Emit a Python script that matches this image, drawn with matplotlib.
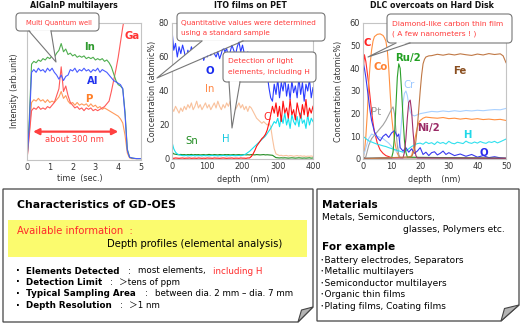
import numpy as np
import matplotlib
matplotlib.use('Agg')
import matplotlib.pyplot as plt
import matplotlib.transforms as mtransforms
from matplotlib.patches import FancyBboxPatch, Polygon, Rectangle
from matplotlib.lines import Line2D

plt.rcParams['font.family'] = ['DejaVu Sans', 'Noto Sans CJK JP']

W, H = 522, 328

# ---- AlGaInP multilayers : intensity vs sputtering time ----
t1 = np.round(np.arange(0, 5.01, 0.1), 1)
in1 = [0, 30, 70, 72, 71, 73, 72, 74, 73, 75,
       74, 76, 75, 78, 80, 85, 79, 81, 77, 78,
       76, 77, 75, 76, 75, 76, 74, 75, 74, 75,
       73, 74, 73, 74, 72, 73, 71, 68, 63, 58,
       55, 54, 52, 35, 8, 2, 1.5, 1.2, 1, 1, 1]
al1 = [0, 25, 64, 66, 64, 67, 65, 66, 64, 67,
       65, 67, 64, 62, 59, 62, 58, 61, 62, 66,
       65, 67, 64, 66, 65, 67, 65, 66, 64, 66,
       65, 67, 64, 66, 65, 64, 62, 60, 58, 57,
       56, 55, 52, 33, 7, 2, 1.5, 1.2, 1, 1, 1]
p1 = [0, 20, 42, 44, 43, 45, 43, 44, 42, 44,
      42, 43, 42, 44, 46, 50, 45, 47, 43, 41,
      42, 40, 42, 40, 41, 40, 41, 39, 41, 39,
      40, 38, 39, 37, 38, 37, 36, 35, 34, 33,
      32, 30, 27, 18, 5, 1.5, 1, 1, 1, 1, 1]
ga1 = [0, 18, 36, 38, 37, 39, 37, 38, 37, 39,
       38, 40, 42, 47, 52, 68, 50, 54, 47, 42,
       40, 38, 39, 37, 38, 36, 38, 37, 38, 36,
       37, 36, 37, 38, 39, 41, 43, 50, 58, 66,
       75, 86, 97, 106, 110, 110, 110, 110, 110, 110, 110]

# ---- ITO films on PET : concentration vs depth ----
d2 = np.arange(0, 401, 5)
o2 = [76, 64, 68, 60, 66, 62, 67, 63, 58,
      64, 61, 66, 63, 65, 60, 62, 67, 63,
      58, 62, 60, 64, 61, 65, 62, 60, 63,
      59, 62, 66, 63, 65, 60, 63, 67, 64,
      61, 66, 69, 63, 67, 62, 58, 63, 60,
      62, 58, 61, 57, 60, 56, 58, 54, 55,
      50, 42, 36, 34, 44, 38, 47, 36, 45,
      40, 48, 37, 44, 35, 46, 39, 43, 36,
      48, 38, 45, 34, 44, 40, 47, 36, 42]
in2 = [30, 28, 31, 29, 27, 30, 28, 31, 29,
       32, 30, 33, 29, 31, 34, 30, 32, 29,
       31, 33, 30, 32, 29, 31, 33, 30, 34,
       31, 29, 32, 30, 33, 31, 34, 30, 32,
       29, 31, 33, 30, 32, 29, 31, 28, 31,
       30, 28, 26, 24, 23, 22, 21, 22, 21,
       20, 21, 19, 12, 6, 3, 2.5, 2, 2.2,
       1.8, 2, 2.1, 1.7, 2, 1.9, 1.6, 1.8, 2,
       1.7, 1.9, 1.6, 1.8, 1.5, 1.7, 1.6, 1.8, 1.5]
sn2 = [4, 3, 2.8, 2.6, 2.5, 2.7, 2.5, 2.6, 2.4,
       2.6, 2.5, 2.7, 2.4, 2.6, 2.5, 2.6, 2.4, 2.5,
       2.6, 2.4, 2.5, 2.7, 2.5, 2.4, 2.6, 2.5, 2.4,
       2.6, 2.5, 2.4, 2.6, 2.5, 2.6, 2.4, 2.5, 2.6,
       2.4, 2.5, 2.6, 2.4, 2.5, 2.6, 2.4, 2.5, 2.4,
       2.6, 2.5, 2.4, 2.6, 2.5, 2.4, 2.5, 2.6, 2.4,
       2.5, 2.4, 2.3, 2.2, 1.5, 0.8, 0.7, 0.6, 0.7,
       0.6, 0.7, 0.6, 0.5, 0.6, 0.7, 0.6, 0.5, 0.6,
       0.7, 0.6, 0.5, 0.6, 0.5, 0.6, 0.7, 0.5, 0.6]
h2 = [10, 6, 4, 3, 2.5, 2.2, 2, 1.9, 2.1,
      1.8, 2, 1.9, 2.1, 1.8, 2, 1.9, 2, 1.8,
      2.1, 1.9, 2, 1.8, 2, 2.1, 1.9, 2, 1.8,
      2, 1.9, 2.1, 2, 1.8, 2, 1.9, 2.1, 2,
      1.9, 2, 2.1, 1.9, 2.2, 2.5, 3, 3.8, 4.5,
      5.5, 6.5, 7.5, 8.5, 9.5, 10.5, 11.5, 12.5, 13.5,
      15, 16.5, 18, 20, 22, 21, 24, 19, 25,
      21, 27, 20, 24, 18, 26, 22, 20, 25,
      19, 27, 21, 23, 18, 26, 20, 24, 22]
c2 = [0.5, 0.4, 0.6, 0.5, 0.4, 0.5, 0.6, 0.4, 0.5,
      0.5, 0.6, 0.4, 0.5, 0.5, 0.4, 0.6, 0.5, 0.4,
      0.5, 0.4, 0.6, 0.5, 0.5, 0.4, 0.6, 0.5, 0.5,
      0.4, 0.5, 0.6, 0.5, 0.4, 0.5, 0.5, 0.6, 0.4,
      0.5, 0.5, 0.4, 0.6, 0.5, 0.5, 0.4, 0.6, 0.6,
      1.5, 3, 5, 7.5, 9, 10.5, 12, 13, 14.5,
      17, 21, 26, 31, 27, 33, 25, 31, 22,
      34, 27, 30, 24, 35, 26, 29, 23, 33,
      28, 24, 32, 26, 35, 25, 30, 27, 31]

# ---- DLC overcoats on hard disk : concentration vs depth ----
c3_d = [0, 0.5, 1, 1.5, 2, 2.5, 3, 3.5, 4, 5, 6, 7, 8, 10, 50]
c3 = [38, 46, 43, 38, 33, 27, 21, 16, 12, 7, 4, 2.5, 1.5, 0.6, 0.3]
co3_d = [0, 0.5, 1, 1.5, 2, 2.5, 3, 3.5, 4, 5, 6, 7, 7.5, 8, 8.5, 9, 9.5, 10,
         10.5, 11, 11.5, 12, 12.5, 13, 14, 16, 17, 17.5, 18, 18.5, 19, 19.5, 20,
         21, 22, 24, 26, 28, 30, 32, 34, 36, 38, 40, 42, 44, 46, 48, 50]
co3 = [0, 3, 10, 20, 33, 42, 48, 52, 54, 55, 55.2, 54.5, 53.5, 52, 48, 40, 29, 19,
       13, 8.5, 5, 2.5, 1.2, 0.7, 0.6, 0.6, 1.5, 4, 8, 11, 14, 16, 17,
       18, 18.5, 18.2, 18, 18.3, 17.8, 18, 17.6, 17.9, 17.5, 17.8, 17.4, 17.6, 17.3, 17.5, 17]
ru3_d = [0, 10, 10.5, 11, 11.5, 12, 12.5, 13, 13.5, 14, 14.5, 15, 15.5, 50]
ru3 = [0.3, 0.5, 3, 10, 23, 36, 42, 40, 30, 18, 8, 3, 0.8, 0.3]
ni3_d = [0, 14, 14.5, 15, 15.5, 16, 16.5, 17, 17.5, 18, 18.5, 19, 50]
ni3 = [0.3, 0.5, 3, 9, 18, 25, 26, 21, 12, 5, 1.5, 0.5, 0.3]
fe3_d = [0, 17, 18, 18.5, 19, 19.5, 20, 20.5, 21, 21.5, 22, 23, 24, 26, 28, 30,
         32, 34, 36, 38, 40, 42, 44, 46, 48, 49, 50]
fe3 = [0, 1, 4, 8, 14, 22, 30, 37, 42, 44, 45, 45.5, 45.6, 46.2, 45.8, 46.3,
       45.9, 46.4, 46, 45.7, 46.3, 45.9, 46.5, 46.1, 46.4, 45.5, 42.5]
cr3_d = [0, 1, 2, 3, 4, 5, 6, 7, 8, 9, 10, 11, 12, 12.5, 13, 13.5, 14, 14.5, 15,
         15.5, 16, 16.5, 17, 18, 19, 20, 22, 24, 26, 28, 30, 32, 34, 36, 38, 40,
         42, 44, 46, 48, 50]
cr3 = [0.5, 5, 9, 11, 10.5, 10, 9.5, 9, 8, 7, 5.5, 4, 3, 4, 9, 17, 25, 29, 30,
       28, 24, 21, 19.5, 19, 19.5, 20, 20.5, 21, 20.8, 21.2, 20.9, 21.3, 21, 21.4,
       21.2, 21.5, 21.3, 21.6, 21.8, 21.7, 22.3]
pt3_d = [0, 1, 2, 3, 4, 5, 6, 7, 8, 9, 10, 10.5, 11, 11.5, 12, 12.5, 13, 50]
pt3 = [0.3, 1, 6, 9, 10.5, 12, 13.5, 15, 17, 19.5, 22, 23, 20, 13, 6, 2, 0.5, 0.3]
o3_d = [0, 0.5, 1, 1.5, 2, 2.5, 3, 4, 5, 6, 7, 8, 9, 10, 11, 12, 12.5, 13, 14,
        15, 16, 17, 18, 19, 20, 21, 22, 23, 24, 25, 26, 27, 28, 29, 30, 32, 34,
        36, 38, 40, 42, 44, 46, 48, 50]
o3 = [43, 40, 36, 31, 26, 21, 17, 12, 9.5, 8, 10, 11, 9.5, 11.5, 12.5, 10, 11, 5,
      3.5, 5, 3, 4.5, 2.5, 3.5, 5, 2, 3, 1.5, 2.8, 3.2, 1.8, 2.5, 3.5, 2, 2.8,
      1.5, 2.2, 1.2, 2, 0.8, 1.5, 0.6, 1, 0.5, 0.3]
h3_d = np.arange(0, 51, 1)
h3 = [10, 9, 8, 7.5, 7, 6.5, 6.2, 5.8, 5.5, 5, 4.6, 4.2, 3.8, 3.4, 3, 3.6, 4.5,
      5.5, 6.2, 6.8, 7, 6.5, 7.5, 6.8, 7.2, 6.4, 7.6, 6.9, 7.3, 6.6, 7.8, 7, 6.7,
      7.4, 7.1, 6.8, 7.9, 7.2, 6.9, 7.5, 7, 7.7, 7.2, 6.9, 7.6, 7.3, 7.8, 7.1,
      7.6, 8.2, 8.8]

fig = plt.figure(figsize=(W / 100, H / 100), dpi=100)
# pixel coordinates, origin at top-left
pix = mtransforms.Affine2D().scale(1, -1).translate(0, H).scale(1 / W, 1 / H) + fig.transFigure


def px_axes(x0, y0, x1, y1):
    ax = fig.add_axes([x0 / W, 1 - y1 / H, (x1 - x0) / W, (y1 - y0) / H])
    for s in ax.spines.values():
        s.set_color('#c4c4c4')
        s.set_linewidth(0.8)
    ax.tick_params(length=0, labelsize=5.9, pad=2, colors='#333333')
    return ax


def ftext(x, y, s, **kw):
    return fig.text(x, y, s, transform=pix, **kw)


def callout(x0, y0, x1, y1, b0, b1, tip, lines, tx, fs=5.2):
    fig.patches.append(FancyBboxPatch((x0, y0), x1 - x0, y1 - y0,
                                      boxstyle='round,pad=0,rounding_size=4',
                                      transform=pix, fc='white', ec='#777777',
                                      lw=0.8, zorder=5))
    fig.patches.append(Polygon([(b0 + 0.6, y1 - 0.9), tip, (b1 - 0.6, y1 - 0.9)],
                               closed=True, transform=pix, fc='white', ec='none',
                               zorder=6))
    fig.lines.append(Line2D([b0, tip[0], b1], [y1, tip[1], y1], transform=pix,
                            color='#777777', lw=0.8, zorder=7))
    for i, s in enumerate(lines):
        ftext(tx, y0 + 9.5 + i * 10.5, s, color='#ff3b3b', fontsize=fs,
              va='center', ha='left', zorder=8)


lw = 0.8

# panel 1
ax1 = px_axes(27, 23, 141, 160)
ax1.plot(t1, p1, color='#ff9a5c', lw=lw)
ax1.plot(t1, ga1, color='#ff5a5a', lw=lw)
ax1.plot(t1, in1, color='#4fae4f', lw=lw)
ax1.plot(t1, al1, color='#4a5cff', lw=lw)
ax1.set_xlim(0, 5)
ax1.set_ylim(0, 100)
ax1.set_yticks([])
ax1.set_xticks([0, 1, 2, 3, 4, 5])
ax1.text(2.76, 82.7, 'In', color='#2f9a2f', fontsize=7.3, fontweight='bold', ha='center', va='center')
ax1.text(2.88, 57.7, 'Al', color='#2233ee', fontsize=7.3, fontweight='bold', ha='center', va='center')
ax1.text(2.73, 44.5, 'P', color='#ff7f27', fontsize=7.3, fontweight='bold', ha='center', va='center')
ax1.text(4.59, 90.7, 'Ga', color='#ff3333', fontsize=7.3, fontweight='bold', ha='center', va='center')
ax1.annotate('', xy=(0.27, 20.7), xytext=(4.0, 20.7),
             arrowprops=dict(arrowstyle='<|-|>,head_length=0.35,head_width=0.18',
                             color='#ff4040', lw=1.6, shrinkA=0, shrinkB=0))
ax1.text(2.1, 15.3, 'about 300 nm', color='#ff4040', fontsize=6.0, ha='center', va='center')

# panel 2
ax2 = px_axes(172, 23, 313, 159)
ax2.plot(d2, in2, color='#f9c19c', lw=lw)
ax2.plot(d2, o2, color='#2a3cff', lw=lw)
ax2.plot(d2, sn2, color='#1f8a1f', lw=lw)
ax2.plot(d2, h2, color='#16e0ee', lw=lw)
ax2.plot(d2, c2, color='#ff1010', lw=lw)
ax2.set_xlim(0, 400)
ax2.set_ylim(0, 80)
ax2.set_xticks([0, 100, 200, 300, 400])
ax2.set_yticks([0, 20, 40, 60, 80])
ax2.text(106, 52, 'O', color='#1a2cee', fontsize=7.3, fontweight='bold', ha='center', va='center')
ax2.text(108, 41, 'In', color='#ff8440', fontsize=7.3, ha='center', va='center')
ax2.text(56, 10.8, 'Sn', color='#1f8a1f', fontsize=7.3, ha='center', va='center')
ax2.text(153, 11.6, 'H', color='#10c8e0', fontsize=7.3, ha='center', va='center')
ax2.text(269, 24.9, 'C', color='#ff2020', fontsize=7.3, ha='center', va='center')

# panel 3
ax3 = px_axes(363, 23, 506, 159)
ax3.plot(c3_d, c3, color='#ff2a2a', lw=lw)
ax3.plot(co3_d, co3, color='#ff9040', lw=lw)
ax3.plot(cr3_d, cr3, color='#a8d0ff', lw=lw)
ax3.plot(pt3_d, pt3, color='#a0a0a0', lw=lw)
ax3.plot(h3_d, h3, color='#30e0ee', lw=lw)
ax3.plot(o3_d, o3, color='#3a3aee', lw=lw)
ax3.plot(ru3_d, ru3, color='#2ca02c', lw=lw)
ax3.plot(ni3_d, ni3, color='#a0306a', lw=lw)
ax3.plot(fe3_d, fe3, color='#c07845', lw=lw)
ax3.set_xlim(0, 50)
ax3.set_ylim(0, 60)
ax3.set_xticks([0, 10, 20, 30, 40, 50])
ax3.set_yticks([0, 10, 20, 30, 40, 50, 60])
lab3 = [(1.3, 51.2, 'C', '#ff2020', 'bold'), (6.0, 40.7, 'Co', '#ff8030', 'bold'),
        (15.8, 44.5, 'Ru/2', '#22a022', 'bold'), (16.0, 32.6, 'Cr', '#9cc8ff', 'normal'),
        (34.0, 39.0, 'Fe', '#8a4f20', 'bold'), (4.6, 20.7, 'Pt', '#999999', 'normal'),
        (22.8, 13.7, 'Ni/2', '#9a2a66', 'bold'), (36.3, 10.6, 'H', '#20d8e8', 'bold'),
        (42.3, 2.6, 'O', '#2a2aee', 'bold')]
for x, y, s, c, fw in lab3:
    ax3.text(x, y, s, color=c, fontsize=7.3, fontweight=fw, ha='center', va='center')

# titles, axis labels
tkw = dict(fontsize=5.7, fontweight='bold', ha='center', va='center', color='#111111')
ftext(74, 5.5, 'AlGaInP multilayers', **tkw)
ftext(250, 5.5, 'ITO films on PET', **tkw)
ftext(432, 5.5, 'DLC overcoats on Hard Disk', **tkw)
lkw = dict(fontsize=5.8, ha='center', va='center', color='#333333')
ftext(15, 91, 'Intensity (arb.unit)', rotation=90, **lkw)
ftext(152, 91, 'Concentration (atomic%)', rotation=90, **lkw)
ftext(338, 91, 'Concentration (atomic%)', rotation=90, **lkw)
ftext(80, 179, 'time  (sec.)', **lkw)
ftext(243, 179, 'depth    (nm)', **lkw)
ftext(434, 179, 'depth    (nm)', **lkw)

# callouts
callout(16, 13, 99, 31, 29, 51, (56, 62), ['Multi Quantum well'], 26, fs=4.9)
callout(177, 13, 325, 41, 202, 243, (157, 78),
        ['Quantitative values were determined', 'using a standard sample'], 181)
callout(223, 52, 316, 82, 229, 240, (232, 128),
        ['Detection of light', 'elements, including H'], 228, fs=5.4)
callout(387, 14, 512, 43, 396, 410, (368, 57),
        ['Diamond-like carbon thin film', '( A few nanometers ! )'], 392, fs=5.4)

# lower info cards with a curled corner
for outline, curl in [([(3, 189), (313, 189), (313, 307), (298, 322), (3, 322)],
                       [(298, 322), (301.5, 310), (313, 307)]),
                      ([(317, 189), (519, 189), (519, 305), (501, 321), (317, 321)],
                       [(501, 321), (504.5, 308.5), (519, 305)])]:
    fig.patches.append(Polygon(outline, closed=True, transform=pix, fc='white',
                               ec='#444444', lw=0.9, zorder=1))
    fig.patches.append(Polygon(curl, closed=True, transform=pix, fc='#b4b4b4',
                               ec='#444444', lw=0.8, zorder=3))

fig.patches.append(Rectangle((8, 220), 299, 37, transform=pix, fc='#fbfb6e',
                             ec='none', zorder=2))

ftext(17, 205, 'Characteristics of GD-OES', fontsize=7.8, fontweight='bold', va='center', zorder=4)
ftext(17, 231, 'Available information  :', fontsize=7.2, color='#ff2a2a', va='center', zorder=4)
ftext(107, 244, 'Depth profiles (elemental analysis)', fontsize=7.2, va='center', zorder=4)

bkw = dict(fontsize=6.3, va='center', zorder=4)
rows = [(271, 'Elements Detected', 128, 'most elements,', 138),
        (282.5, 'Detection Limit', 110, '＞tens of ppm', 119),
        (294, 'Typical Sampling Area', 145, 'between dia. 2 mm – dia. 7 mm', 155),
        (305.5, 'Depth Resolution', 120, '＞1 nm', 129)]
for y, head, xc, body, xb in rows:
    ftext(16, y, '·', fontsize=7, fontweight='bold', va='center', zorder=4)
    ftext(26, y, head, fontweight='bold', **bkw)
    ftext(xc, y, ':', **bkw)
    ftext(xb, y, body, **bkw)
ftext(213, 271, 'including H', color='#ff2a2a', **bkw)

ftext(322, 205, 'Materials', fontsize=7.6, fontweight='bold', va='center', zorder=4)
ftext(322, 217.5, 'Metals, Semiconductors,', fontsize=6.6, va='center', zorder=4)
ftext(403, 229, 'glasses, Polymers etc.', fontsize=6.6, va='center', zorder=4)
ftext(322, 247.5, 'For example', fontsize=7.6, fontweight='bold', va='center', zorder=4)
examples = ['Battery electrodes, Separators', 'Metallic multilayers',
            'Semiconductor multilayers', 'Organic thin films',
            'Plating films, Coating films']
for i, s in enumerate(examples):
    ftext(320, 260.5 + i * 11.4, '･' + s, fontsize=6.5, va='center', zorder=4)

fig.savefig('out.png', dpi=100)
